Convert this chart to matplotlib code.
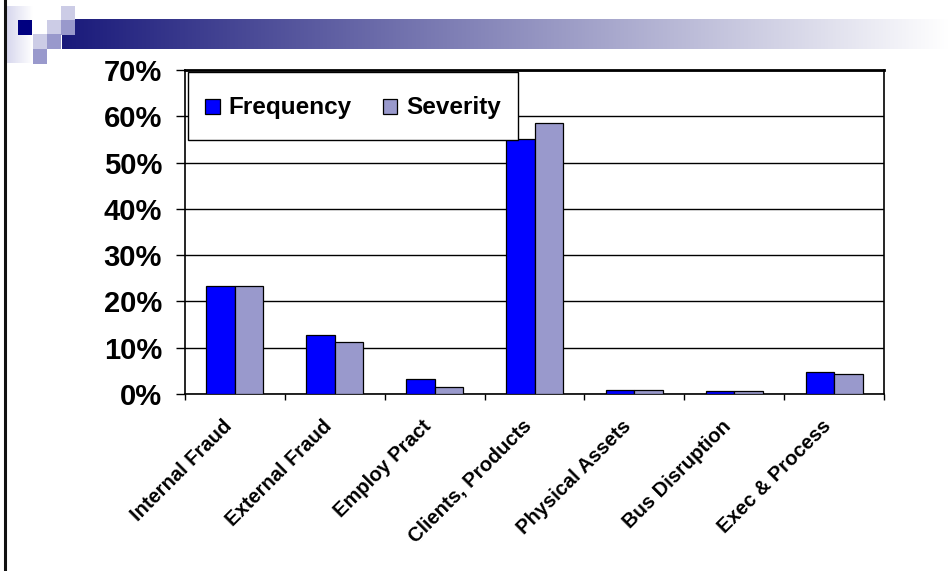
import matplotlib
matplotlib.use("Agg")
import matplotlib.pyplot as plt
import matplotlib.transforms as mtransforms
import numpy as np
from matplotlib.patches import Rectangle
from matplotlib.container import BarContainer
from matplotlib.legend_handler import HandlerPatch, update_from_first_child
from matplotlib.ticker import FuncFormatter, FixedLocator

plt.rcParams['font.family'] = ['Liberation Sans', 'DejaVu Sans']
plt.rcParams['font.weight'] = 'bold'

# --- data: share of operational losses by event type ---
categories = ['Internal Fraud', 'External Fraud', 'Employ Pract', 'Clients, Products',
              'Physical Assets', 'Bus Disruption', 'Exec & Process']
frequency = [23.3, 12.7, 3.3, 55.1, 0.9, 0.65, 4.75]
severity = [23.3, 11.2, 1.6, 58.5, 0.9, 0.7, 4.3]
y_ticks = [0, 10, 20, 30, 40, 50, 60, 70]

c_freq = '#0000FF'
c_sev = '#9999CC'

W, H = 949, 571
fig = plt.figure(figsize=(W / 100, H / 100), dpi=100)

# --- slide decoration drawn in pixel coordinates ---
deco = fig.add_axes([0, 0, 1, 1], zorder=0)
deco.set_xlim(0, W)
deco.set_ylim(H, 0)
deco.axis('off')

# header band fading from navy to white
grad = np.linspace(0, 1, 512)
navy = np.array([0.10, 0.10, 0.48])
band = navy[None, :] * (1 - grad[:, None]) + np.ones(3)[None, :] * grad[:, None]
deco.imshow(band[None, :, :], extent=(62, W, 49.5, 20), aspect='auto', zorder=1)

# faint lavender wash behind the squares
wash = np.linspace(0, 1, 64)
lav = np.array([0.84, 0.84, 0.93])
wash_img = lav[None, :] * (1 - wash[:, None]) + np.ones(3)[None, :] * wash[:, None]
deco.imshow(wash_img[None, :, :], extent=(6, 33, 63, 6), aspect='auto', zorder=1)

light = '#CCCCE6'
mid = '#9999CC'
squares = [
    (61, 6, light), (18, 20, '#000080'), (47, 20, light), (61, 20, mid),
    (33, 34, light), (47, 34, mid), (33, 49, mid),
]
for sx, sy, sc in squares:
    deco.add_patch(Rectangle((sx, sy), 14.5, 14.5, facecolor=sc, edgecolor='none', zorder=2))

# left edge rule of the slide
deco.plot([5, 5], [0, H], color='#111111', lw=2.2, zorder=3)

# --- chart ---
ax = fig.add_axes([185 / W, 1 - 394 / H, (884 - 185) / W, (394 - 70) / H], zorder=2)
x = np.arange(len(categories))
bw = 0.285
ax.bar(x - bw / 2, frequency, bw, color=c_freq, edgecolor='black', linewidth=0.9,
       label='Frequency', zorder=3)
ax.bar(x + bw / 2, severity, bw, color=c_sev, edgecolor='black', linewidth=0.9,
       label='Severity', zorder=3)

ax.set_xlim(-0.5, len(categories) - 0.5)
ax.set_ylim(0, 70)
ax.set_yticks(y_ticks)
ax.yaxis.set_major_formatter(FuncFormatter(lambda v, p: f'{int(v)}%'))
ax.tick_params(axis='y', direction='out', length=6.5, width=1, pad=10, labelsize=21)
ax.grid(axis='y', color='black', linewidth=1, zorder=1)
ax.set_axisbelow(True)

ax.set_xticks(x)
ax.set_xticklabels(categories, rotation=45, ha='right', va='center',
                   rotation_mode='anchor', fontsize=14.5)
ax.tick_params(axis='x', which='major', length=0, pad=21)
shift = mtransforms.ScaledTranslation(-6 / 100, 0, fig.dpi_scale_trans)
for lbl in ax.get_xticklabels():
    lbl.set_transform(lbl.get_transform() + shift)
ax.xaxis.set_minor_locator(FixedLocator(np.arange(-0.5, len(categories), 1.0)))
ax.tick_params(axis='x', which='minor', direction='out', length=4.5, width=1)

for side in ['left', 'bottom', 'right']:
    ax.spines[side].set_linewidth(1.2)
ax.spines['top'].set_linewidth(2)


def small_square(legend, orig_handle, xdescent, ydescent, width, height, fontsize):
    side = 0.6 * fontsize
    return Rectangle((-xdescent + (width - side) / 2, -ydescent + (height - side) / 2),
                     side, side)


leg = ax.legend(loc='upper left', bbox_to_anchor=(3 / 699, 1 - 2 / 324), borderaxespad=0,
                ncol=2, fontsize=17.5, frameon=True, fancybox=False, shadow=False,
                handlelength=0.6, handleheight=1.8, handletextpad=0.35,
                columnspacing=1.3, borderpad=0.7,
                handler_map={BarContainer: HandlerPatch(patch_func=small_square,
                                                        update_func=update_from_first_child)})
leg.get_frame().set_edgecolor('black')
leg.get_frame().set_linewidth(1)
leg.get_frame().set_alpha(1)

fig.savefig('out.png', dpi=100)
